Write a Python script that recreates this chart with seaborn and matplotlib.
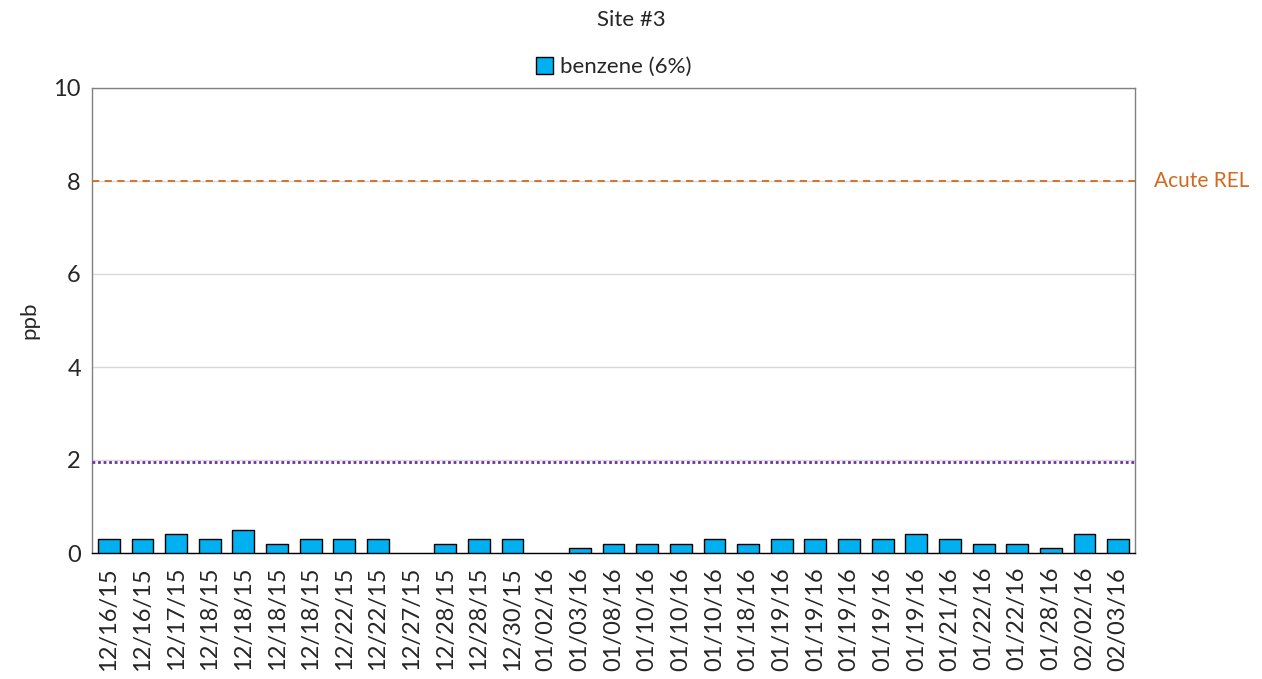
import numpy as np
import pandas as pd
import matplotlib
matplotlib.use("Agg")
import matplotlib.pyplot as plt
import seaborn as sns

dates = ["12/16/15", "12/16/15", "12/17/15", "12/18/15", "12/18/15", "12/18/15",
         "12/18/15", "12/22/15", "12/22/15", "12/27/15", "12/28/15", "12/28/15",
         "12/30/15", "01/02/16", "01/03/16", "01/08/16", "01/10/16", "01/10/16",
         "01/10/16", "01/18/16", "01/19/16", "01/19/16", "01/19/16", "01/19/16",
         "01/19/16", "01/21/16", "01/22/16", "01/22/16", "01/28/16", "02/02/16",
         "02/03/16"]
benzene = [0.3, 0.3, 0.4, 0.3, 0.5, 0.2, 0.3, 0.3, 0.3, 0.0, 0.2, 0.3, 0.3, 0.0,
           0.1, 0.2, 0.2, 0.2, 0.3, 0.2, 0.3, 0.3, 0.3, 0.3, 0.4, 0.3, 0.2, 0.2,
           0.1, 0.4, 0.3]
acute_rel = 8.0
chronic_line = 1.95

sns.set_style("white")
plt.rcParams['font.family'] = ['Lato', 'DejaVu Sans']

df = pd.DataFrame({"idx": list(range(len(dates))), "ppb": benzene})

fig = plt.figure(figsize=(12.62, 6.79), dpi=100)
ax = fig.add_axes([92/1262, 1-553/679, (1135-92)/1262, (553-88)/679])

sns.barplot(data=df, x="idx", y="ppb", color="#00B0F0", saturation=1,
            edgecolor="black", linewidth=1, width=0.65, ax=ax,
            label="benzene (6%)", zorder=3)
# no outline for empty (zero) bars
for p in ax.patches:
    if p.get_height() == 0:
        p.set_linewidth(0)

ax.set_ylim(0, 10)
ax.set_xlim(-0.5, len(dates) - 0.5)
ax.set_yticks([0, 2, 4, 6, 8, 10])
ax.yaxis.grid(True, color="#d9d9d9", linewidth=1, zorder=0)
ax.set_axisbelow(True)
ax.tick_params(axis="y", labelsize=17, length=0, pad=8)

ax.set_xticks(range(len(dates)))
ax.set_xticklabels(dates, rotation=90, fontsize=17)
ax.tick_params(axis="x", which="major", length=0, pad=10)
ax.set_xticks(np.arange(-0.5, len(dates), 1), minor=True)
ax.tick_params(axis="x", which="minor", length=8, width=1, color="black", direction="out")
ax.set_xlabel("")
ax.set_ylabel("ppb", fontsize=16, labelpad=10)

for s in ax.spines.values():
    s.set_color("#808080")
    s.set_linewidth(1)
ax.spines["bottom"].set_color("black")

ax.axhline(acute_rel, color="#D2691E", linestyle=(0, (4, 3)), linewidth=1.3, zorder=4)
ax.text(1.018, acute_rel, "Acute REL", transform=ax.get_yaxis_transform(),
        color="#D2691E", fontsize=15, va="center", ha="left")
ax.axhline(chronic_line, color="#7030A0", linestyle=(0, (1, 1)), linewidth=2, zorder=4)

leg = ax.legend(loc="lower center", bbox_to_anchor=(0.5, 1.0), frameon=False,
                fontsize=16, handlelength=0.8, handleheight=0.8, handletextpad=0.3,
                borderaxespad=0.1)

fig.suptitle("Site #3", fontsize=16, y=0.985, va="top")

fig.savefig("out.png", dpi=100)
